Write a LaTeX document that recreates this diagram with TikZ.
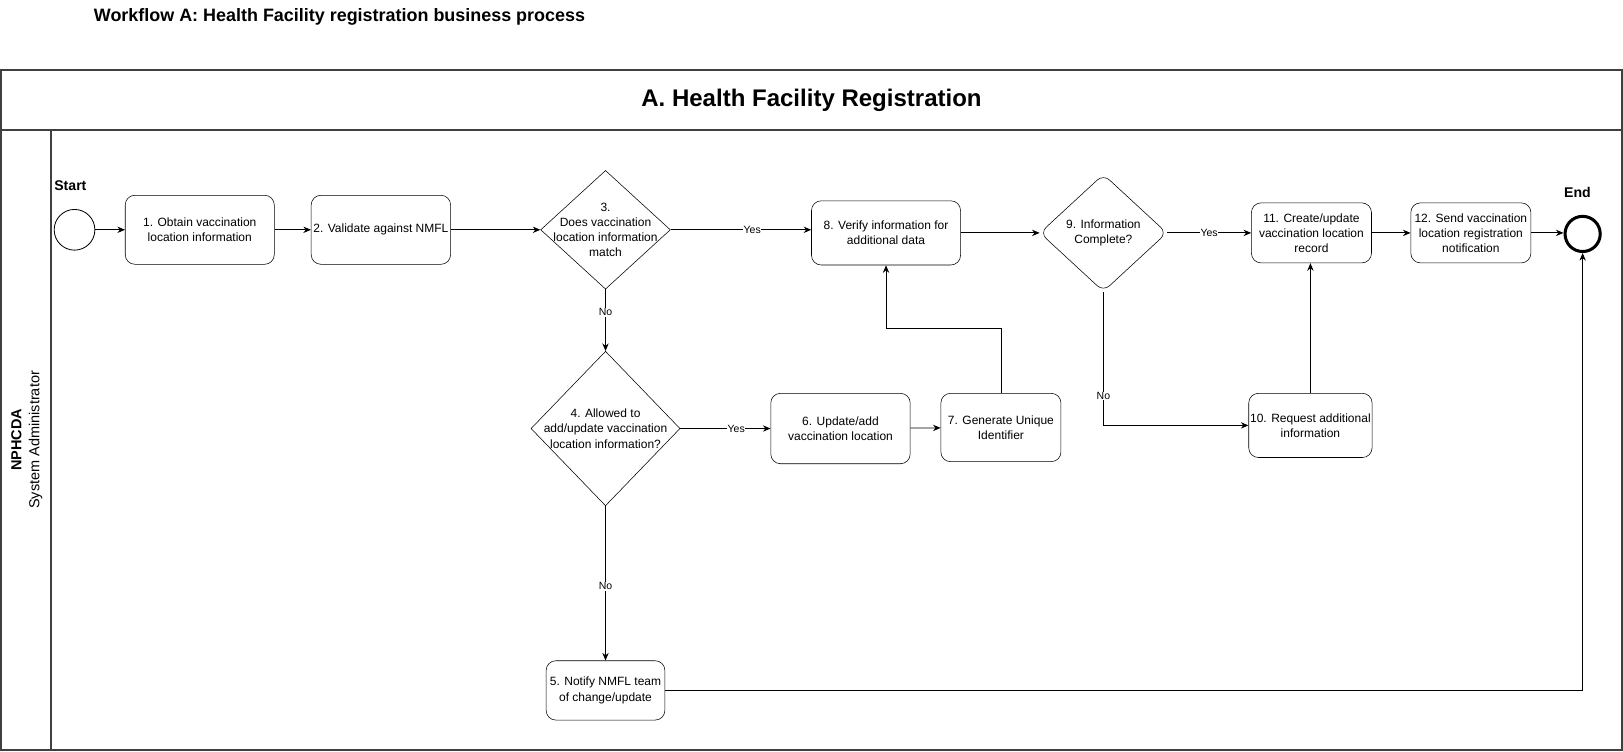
\documentclass[tikz,border=0pt]{standalone}
\usepackage{fontspec}
\setmainfont{Liberation Sans}
\usetikzlibrary{arrows.meta,shapes.geometric}
\tikzset{
  task/.style args={#1 by #2}{
    draw,rounded corners=7pt,align=center,minimum width=#1,minimum height=#2,
    inner sep=1pt,font=\fontsize{8.7}{11}\selectfont, % rounded task box
  },
  decision/.style args={#1 by #2}{
    draw,diamond,minimum width=#1,minimum height=#2,inner sep=0pt, % gateway
  },
  gwtext/.style={align=center,font=\fontsize{8.7}{11}\selectfont},
  flow/.style={-{Stealth[length=5.5pt,width=4.6pt]},line width=0.6pt},
  flowlabel/.style={fill=white,inner sep=0.5pt,font=\fontsize{7.6}{9}\selectfont},
  pool/.style={draw=black!75,line width=1.4pt},
}

\begin{document}
\begin{tikzpicture}[x=0.75pt,y=-0.75pt]

		\useasboundingbox (0,0) rectangle (1568,726);

		% title and pool
		\node[anchor=west,font=\fontsize{13}{15}\selectfont\bfseries] (wftitle) at (86,16)
		{Workflow A: Health Facility registration business process};
		\draw[pool] (1,68) rectangle (1567,725);
		\draw[pool] (1,126) -- (1567,126);
		\draw[pool] (49,126) -- (49,725);
		\node[font=\fontsize{17.4}{20}\selectfont\bfseries] (pooltitle) at (784,97)
		{A. Health Facility Registration};
		\node[rotate=90,align=center,font=\fontsize{10.5}{13}\selectfont] (lane) at (26,425)
		{\textbf{NPHCDA}\\System Administrator};

		% events
		\node[draw,circle,minimum size=29.5pt,inner sep=0pt,line width=0.6pt] (start) at (72,222) {};
		\node[font=\fontsize{10.2}{12}\selectfont\bfseries] (starttext) at (68,179) {Start};
		\node[draw,circle,minimum size=25.5pt,inner sep=0pt,line width=2.2pt] (end) at (1529,226) {};
		\node[font=\fontsize{10.2}{12}\selectfont\bfseries] (endtext) at (1524,186) {End};

		% tasks
		\node[task=108pt by 50pt] (b1) at (193,222) {1. Obtain vaccination\\location information};
		\node[task=101pt by 50pt] (b2) at (368,222) {2. Validate against NMFL};
		\node[task=108pt by 46.5pt] (b8) at (856,225) {8. Verify information for\\additional data};
		\node[task=87pt by 43.5pt] (b11) at (1267,225) {11. Create/update\\vaccination location\\record};
		\node[task=87pt by 43.5pt] (b12) at (1421,225) {12. Send vaccination\\location registration\\notification};
		\node[task=101pt by 51pt] (b6) at (812,414) {6. Update/add\\vaccination location};
		\node[task=87pt by 49.5pt] (b7) at (967,413) {7. Generate Unique\\Identifier};
		\node[task=88.5pt by 46.5pt] (b10) at (1266,411) {10. Request additional\\information};
		\node[task=86pt by 43pt] (b5) at (585,667) {5. Notify NMFL team\\of change/update};

		% gateways
		\node[decision=94pt by 86pt,
		  label={[gwtext]center:3.\\Does vaccination\\location information\\match}] (d3) at (585,222) {};
		\node[decision=108pt by 112pt,
		  label={[gwtext]center:4. Allowed to\\add/update vaccination\\location information?}] (d4) at (585,414) {};
		\node[decision=92pt by 85pt,rounded corners=6pt,
		  label={[gwtext]center:9. Information\\Complete?}] (d9) at (1066,225) {};

		% sequence flows
		\draw[flow] (start) -- (b1);
		\draw[flow] (b1) -- (b2);
		\draw[flow] (b2) -- (d3);
		\draw[flow] (d3.east) -- (d3.east -| b8.west) node[flowlabel,pos=0.58] {Yes};
		\draw[flow] (d3) -- (d4) node[flowlabel,pos=0.37] {No};
		\draw[flow] (d4) -- (b6) node[flowlabel,pos=0.62] {Yes};
		\draw[flow] (d4) -- (b5) node[flowlabel,pos=0.52] {No};
		\draw[flow] (b6) -- (b7);
		\draw[flow] (b7.north) -- ++(0,-62) -| (b8.south);
		\draw[flow] (b8.east) -- (d9.west);
		\draw[flow] (d9) -- (b11) node[flowlabel,pos=0.5] {Yes};
		\draw[flow] (d9.south) |- (b10.west) node[flowlabel,pos=0.39] {No};
		\draw[flow] (b10.north) -- (b10.north |- b11.south);
		\draw[flow] (b11) -- (b12);
		\draw[flow] (b12.east) -- (b12.east -| end.west);
		\draw[flow] (b5.east) -| (end.south);

\end{tikzpicture}
\end{document}
